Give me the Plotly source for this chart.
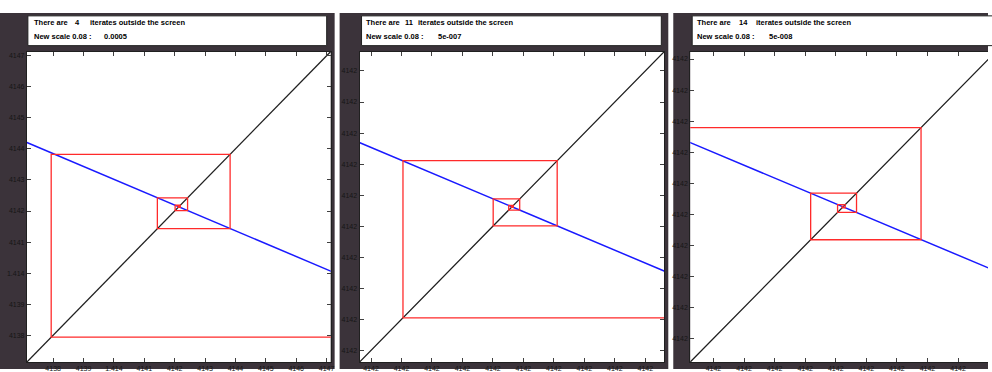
import plotly.graph_objects as go

FIG_W, FIG_H = 992, 372

# ---------------- data ----------------
# identity line y = x
diag_x = [1.410, 1.420]
diag_y = [1.410, 1.420]
# the map (locally a straight line through the fixed point sqrt(2))
map_x = [1.4132135624, 1.4152135624]
map_y = [1.4146275624, 1.4137995624]
# orbit of the iteration (read from the three zoom levels)
orbit = [1.4152135624, 1.4137935624, 1.4143825624, 1.4141430624,
         1.4142425624, 1.4142015624, 1.4142185624, 1.4142115024,
         1.4142144274, 1.4142132049, 1.4142137109, 1.4142135009,
         1.4142135879, 1.4142135518, 1.4142135668, 1.4142135606,
         1.4142135631, 1.4142135621, 1.4142135625]

# axis windows of the three screens
p1_xrange = [1.4137135624, 1.4147135624]
p1_yrange = [1.4137135624, 1.4147135624]
p2_xrange = [1.4142130624, 1.4142140624]
p2_yrange = [1.4142130624, 1.4142140624]
p3_xrange = [1.4142135124, 1.4142136098]
p3_yrange = [1.4142135124, 1.4142136124]

p1_ticks = [1.4138, 1.4139, 1.4140, 1.4141, 1.4142, 1.4143, 1.4144, 1.4145, 1.4146, 1.4147]
p1_labels = ["4138", "4139", "1.414", "4141", "4142", "4143", "4144", "4145", "4146", "4147"]
p2_ticks = [1.4142131, 1.4142132, 1.4142133, 1.4142134, 1.4142135,
            1.4142136, 1.4142137, 1.4142138, 1.4142139, 1.4142140]
p2_labels = ["4142"] * 10
p3_ticks = [1.41421352, 1.41421353, 1.41421354, 1.41421355, 1.41421356,
            1.41421357, 1.41421358, 1.41421359, 1.41421360, 1.41421361]
p3_labels = ["4142"] * 10

outside_counts = ["4", "11", "14"]
new_scales = ["0.0005", "5e-007", "5e-008"]

# ---------------- layout geometry (pixels) ----------------
DARK = "#3b333a"
panels = [
    dict(bg=(0, 336), box=(28, 328), plot=(27, 332), xr=p1_xrange, yr=p1_yrange,
         tv=p1_ticks, tt=p1_labels, t1=32, tn=73, t2=88, ts=102, ymirror="ticks"),
    dict(bg=(341, 671), box=(363, 664), plot=(361, 667), xr=p2_xrange, yr=p2_yrange,
         tv=p2_ticks, tt=p2_labels, t1=365, tn=405, t2=418, ts=438, ymirror="ticks"),
    dict(bg=(676, 992), box=(695, 1000), plot=(693, 992), xr=p3_xrange, yr=p3_yrange,
         tv=p3_ticks, tt=p3_labels, t1=698, tn=740, t2=757, ts=770, ymirror=False),
]
PLOT_TOP, PLOT_BOT = 52, 365
BOX_TOP, BOX_BOT = 16, 46
BG_TOP = 13


def px(x):
    return x / FIG_W


def py(y):
    return (FIG_H - y) / FIG_H


# cobweb path built from the orbit
cob_x = [orbit[0]]
cob_y = [orbit[0]]
for a, b in zip(orbit[:-1], orbit[1:]):
    cob_x += [a, b]
    cob_y += [b, b]

fig = go.Figure()
shapes = []
annotations = []
font_lbl = dict(family="Liberation Sans", size=7, color="#161616")
font_txt = dict(family="Liberation Sans", size=7.5, color="black")

for i, p in enumerate(panels, start=1):
    xa = "x" if i == 1 else f"x{i}"
    ya = "y" if i == 1 else f"y{i}"
    fig.add_trace(go.Scatter(x=diag_x, y=diag_y, mode="lines", xaxis=xa, yaxis=ya,
                             line=dict(color="#202020", width=1.3), showlegend=False,
                             hoverinfo="skip"))
    fig.add_trace(go.Scatter(x=map_x, y=map_y, mode="lines", xaxis=xa, yaxis=ya,
                             line=dict(color="#1a1aff", width=1.5), showlegend=False,
                             hoverinfo="skip"))
    fig.add_trace(go.Scatter(x=cob_x, y=cob_y, mode="lines", xaxis=xa, yaxis=ya,
                             line=dict(color="#ff2a2a", width=1.3), showlegend=False,
                             hoverinfo="skip"))

    axis_common = dict(showgrid=False, zeroline=False, ticks="inside", ticklen=4,
                       tickcolor="#404040", tickwidth=1, showline=True,
                       linecolor="#202020", linewidth=1, tickfont=font_lbl,
                       tickmode="array", tickvals=p["tv"], ticktext=p["tt"],
                       fixedrange=True)
    xkey = "xaxis" if i == 1 else f"xaxis{i}"
    ykey = "yaxis" if i == 1 else f"yaxis{i}"
    fig.update_layout(**{
        xkey: dict(axis_common, domain=[px(p["plot"][0]), min(1.0, px(p["plot"][1]))],
                   range=p["xr"], anchor=ya, mirror="ticks"),
        ykey: dict(axis_common, domain=[py(PLOT_BOT), py(PLOT_TOP)],
                   range=p["yr"], anchor=xa, mirror=p["ymirror"]),
    })

    # window background, plot area, text box
    shapes.append(dict(type="rect", xref="paper", yref="paper", layer="below",
                       x0=px(p["bg"][0]), x1=px(p["bg"][1]), y0=py(FIG_H), y1=py(BG_TOP),
                       fillcolor=DARK, line=dict(width=0)))
    shapes.append(dict(type="rect", xref="paper", yref="paper", layer="below",
                       x0=px(p["plot"][0]), x1=px(p["plot"][1]), y0=py(PLOT_BOT), y1=py(PLOT_TOP),
                       fillcolor="white", line=dict(width=0)))
    shapes.append(dict(type="rect", xref="paper", yref="paper", layer="below",
                       x0=px(p["box"][0]), x1=px(p["box"][1]), y0=py(BOX_BOT), y1=py(BOX_TOP),
                       fillcolor="white", line=dict(color="#202020", width=1)))

    n = i - 1
    for xpos, ypos, txt in [(p["t1"], 23, "There are"), (p["tn"], 23, outside_counts[n]),
                            (p["t2"], 23, "iterates outside the screen"),
                            (p["t1"], 37, "New scale 0.08 :"), (p["ts"], 37, new_scales[n])]:
        annotations.append(dict(xref="paper", yref="paper", x=px(xpos), y=py(ypos),
                                xanchor="left", yanchor="middle", showarrow=False,
                                text=f"<b>{txt}</b>", font=font_txt))

fig.update_layout(width=FIG_W, height=FIG_H, margin=dict(l=0, r=0, t=0, b=0),
                  paper_bgcolor="white", plot_bgcolor="rgba(0,0,0,0)",
                  shapes=shapes, annotations=annotations, showlegend=False)

fig.write_html("out.html", config={"displayModeBar": False})
